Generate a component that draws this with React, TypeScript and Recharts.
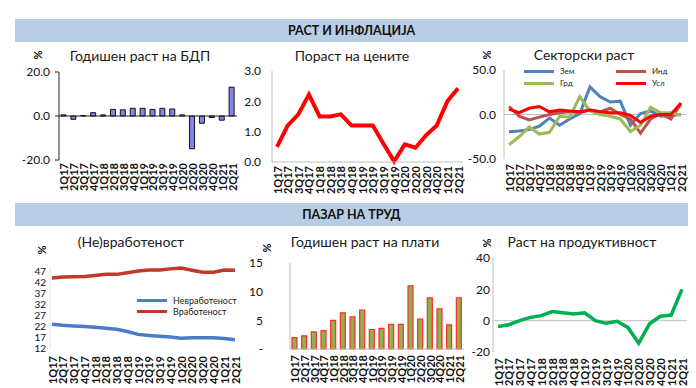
import React from 'react';
import { BarChart, Bar, LineChart, Line, XAxis, YAxis, ReferenceLine } from 'recharts';

const quarters = ['1Q17', '2Q17', '3Q17', '4Q17', '1Q18', '2Q18', '3Q18', '4Q18', '1Q19', '2Q19', '3Q19', '4Q19', '1Q20', '2Q20', '3Q20', '4Q20', '1Q21', '2Q21'];

// Раст и инфлација
const gdpGrowth = [0.5, -1.5, 0.2, 1.5, 0.5, 3.0, 2.8, 3.5, 3.5, 3.0, 3.5, 3.2, 0.5, -14.9, -3.3, -0.7, -1.9, 13.1];
const inflation = [0.5, 1.2, 1.57, 2.22, 1.5, 1.5, 1.57, 1.2, 1.2, 1.2, 0.6, 0.02, 0.58, 0.47, 0.88, 1.2, 2.0, 2.43];
const sectorAgri = [-19.5, -18.5, -17, -13, -4, -12, -5, 1, 31, 20, 14, 15, -12, 1, 4, -2, -1, 0];
const sectorInd = [9, -2, -6, -3, 0, 2, 3, 2, 5, 3, 7, 0, -5, -21, -5, 1, -5, 12];
const sectorConstr = [-34, -25, -14, -22, -20, -2, -3, 20, 4, 0, -2, -5, -19, -12, 8, 2, 2, -1];
const sectorServ = [6, 2, 7, 9, 3, 5, 4, 3, 5, 3, 2, 2, -1, -9, -2, 0, 0, 13];

// Пазар на труд
const unemployment = [22.8, 22.3, 22.0, 21.8, 21.4, 21.0, 20.5, 19.5, 18.2, 17.7, 17.3, 17.0, 16.4, 16.7, 16.7, 16.7, 16.3, 15.8];
const employment = [43.8, 44.3, 44.4, 44.5, 45.0, 45.5, 45.5, 46.2, 47.0, 47.5, 47.5, 48.0, 48.4, 47.4, 46.5, 46.5, 47.5, 47.4];
const wageGrowth = [2.0, 2.3, 3.0, 3.2, 5.0, 6.3, 5.6, 6.8, 3.4, 3.6, 4.3, 4.3, 11.0, 5.2, 8.9, 7.0, 4.2, 8.9];
const productivity = [-3.7, -2.6, 0, 2.1, 3.2, 5.8, 5.0, 4.3, 5.0, 0, -1.7, -0.4, -4.3, -14.4, -2.0, 2.8, 3.6, 20.0];

const FONT = 'Lato, "Noto Sans", sans-serif';
const GRID = '#bfbfbf';

const XTick = ({ x, y, payload }: any) => (
  <text
    transform={`translate(${x},${y}) rotate(-90)`}
    textAnchor="end"
    dominantBaseline="central"
    fontSize={11}
    fontFamily={FONT}
    fontWeight={700}
    fill="#111"
  >
    {payload.value}
  </text>
);

const yTickStyle = { fontSize: 12, fontFamily: FONT, fill: '#111' };
const yTickSmall = { fontSize: 10, fontFamily: FONT, fill: '#111' };

const Title = ({ x, y, text }: { x: number; y: number; text: string }) => (
  <div
    style={{
      position: 'absolute',
      left: x - 120,
      top: y - 9,
      width: 240,
      textAlign: 'center',
      fontFamily: FONT,
      fontSize: 14,
      color: '#1a1a1a',
      lineHeight: '18px',
      whiteSpace: 'nowrap',
    }}
  >
    {text}
  </div>
);

const Pct = ({ x, y }: { x: number; y: number }) => (
  <div
    style={{
      position: 'absolute',
      left: x - 6,
      top: y - 7,
      width: 12,
      height: 14,
      textAlign: 'center',
      fontFamily: FONT,
      fontSize: 11,
      fontWeight: 700,
      lineHeight: '14px',
      transform: 'rotate(-90deg)',
      color: '#111',
    }}
  >
    %
  </div>
);

const Banner = ({ top, text }: { top: number; text: string }) => (
  <div
    style={{
      position: 'absolute',
      left: 15,
      top,
      width: 673,
      height: 23,
      background: '#b8cce4',
      textAlign: 'center',
      lineHeight: '23px',
      fontFamily: FONT,
      fontWeight: 700,
      fontSize: 12.5,
      color: '#111',
    }}
  >
    {text}
  </div>
);

const LegendItem = ({ x, y, color, label, size = 9 }: { x: number; y: number; color: string; label: string; size?: number }) => (
  <div style={{ position: 'absolute', left: x, top: y - 6, height: 12, display: 'flex', alignItems: 'center' }}>
    <div style={{ width: 30, height: 3, background: color, marginRight: 6 }} />
    <span style={{ fontFamily: FONT, fontSize: size, color: '#222', whiteSpace: 'nowrap' }}>{label}</span>
  </div>
);

export default function App() {
  const gdpData = quarters.map((q, i) => ({ q, v: gdpGrowth[i] }));
  const infData = quarters.map((q, i) => ({ q, v: inflation[i] }));
  const sectorData = quarters.map((q, i) => ({
    q,
    zem: sectorAgri[i],
    ind: sectorInd[i],
    grd: sectorConstr[i],
    usl: sectorServ[i],
  }));
  const laborData = quarters.map((q, i) => ({ q, un: unemployment[i], em: employment[i] }));
  const wageData = quarters.map((q, i) => ({ q, v: wageGrowth[i] }));
  const prodData = quarters.map((q, i) => ({ q, v: productivity[i] }));

  return (
    <div style={{ position: 'absolute', left: 0, top: 0, width: 696, height: 388, background: '#fff', overflow: 'hidden' }}>
      <Banner top={19} text="РАСТ И ИНФЛАЦИЈА" />
      <Banner top={203} text="ПАЗАР НА ТРУД" />

      {/* Годишен раст на БДП */}
      <Title x={140} y={56} text="Годишен раст на БДП" />
      <Pct x={38} y={55} />
      <div style={{ position: 'absolute', left: 0, top: 0 }}>
        <BarChart width={240} height={200} data={gdpData} margin={{ top: 72, right: 3, left: 19, bottom: 3 }}>
          <XAxis dataKey="q" height={37} axisLine={false} tickLine={false} tickSize={0} tickMargin={3} interval={0} tick={<XTick />} />
          <YAxis
            width={40}
            domain={[-20, 20]}
            ticks={[-20, 0, 20]}
            interval={0}
            tickFormatter={(v: number) => v.toFixed(1)}
            axisLine={{ stroke: '#222' }}
            tickLine={{ stroke: '#222' }}
            tickSize={4}
            tickMargin={5}
            tick={yTickStyle}
          />
          <ReferenceLine y={0} stroke="#222" />
          <Bar dataKey="v" fill="#8484f0" stroke="#111" strokeWidth={1} barSize={5} isAnimationActive={false} />
        </BarChart>
      </div>

      {/* Пораст на цените */}
      <Title x={352} y={56} text="Пораст на цените" />
      <div style={{ position: 'absolute', left: 225, top: 0 }}>
        <LineChart width={240} height={200} data={infData} margin={{ top: 71, right: 2, left: 17, bottom: 2 }}>
          <XAxis dataKey="q" height={36} padding={{ left: 5, right: 5 }} axisLine={{ stroke: GRID }} tickLine={false} tickSize={0} tickMargin={4} interval={0} tick={<XTick />} />
          <YAxis
            width={30}
            domain={[0, 3]}
            ticks={[0, 1, 2, 3]}
            interval={0}
            tickFormatter={(v: number) => v.toFixed(1)}
            axisLine={{ stroke: GRID }}
            tickLine={false}
            tickMargin={5}
            tick={yTickStyle}
          />
          <Line dataKey="v" stroke="#ff0000" strokeWidth={4} dot={false} type="linear" isAnimationActive={false} />
        </LineChart>
      </div>

      {/* Секторски раст */}
      <Title x={584} y={55} text="Секторски раст" />
      <Pct x={487} y={55} />
      <div style={{ position: 'absolute', left: 455, top: 0 }}>
        <LineChart width={241} height={200} data={sectorData} margin={{ top: 70, right: 10, left: 9, bottom: 3 }}>
          <XAxis dataKey="q" height={38} padding={{ left: 5, right: 5 }} axisLine={false} tickLine={false} tickSize={0} tickMargin={5} interval={0} tick={<XTick />} />
          <YAxis
            width={40}
            domain={[-50, 50]}
            ticks={[-50, 0, 50]}
            interval={0}
            tickFormatter={(v: number) => v.toFixed(1)}
            axisLine={{ stroke: GRID }}
            tickLine={false}
            tick={yTickStyle}
          />
          <ReferenceLine y={0} stroke={GRID} />
          <Line dataKey="zem" stroke="#4f81bd" strokeWidth={3} dot={false} isAnimationActive={false} />
          <Line dataKey="ind" stroke="#c0504d" strokeWidth={3} dot={false} isAnimationActive={false} />
          <Line dataKey="grd" stroke="#9bbb59" strokeWidth={3} dot={false} isAnimationActive={false} />
          <Line dataKey="usl" stroke="#ff0000" strokeWidth={3} dot={false} isAnimationActive={false} />
        </LineChart>
      </div>
      <LegendItem x={524} y={71} color="#4f81bd" label="Зем" size={8} />
      <LegendItem x={616} y={71} color="#c0504d" label="Инд" size={8} />
      <LegendItem x={524} y={83} color="#9bbb59" label="Грд" size={8} />
      <LegendItem x={616} y={83} color="#ff0000" label="Усл" size={8} />

      {/* (Не)вработеност */}
      <Title x={131} y={242} text="(Не)вработеност" />
      <Pct x={42} y={250} />
      <div style={{ position: 'absolute', left: 0, top: 225 }}>
        <LineChart width={245} height={163} data={laborData} margin={{ top: 43, right: 8, left: 10, bottom: 2 }}>
          <XAxis dataKey="q" height={38} padding={{ left: 2, right: 2 }} axisLine={false} tickLine={false} tickSize={0} tickMargin={8} interval={0} tick={<XTick />} />
          <YAxis
            width={40}
            domain={[12, 47]}
            ticks={[12, 17, 22, 27, 32, 37, 42, 47]}
            interval={0}
            axisLine={{ stroke: '#e4e4e4' }}
            tickLine={false}
            tickSize={2}
            tickMargin={2}
            tick={yTickSmall}
          />
          <Line dataKey="em" stroke="#c0392b" strokeWidth={3.5} dot={false} isAnimationActive={false} />
          <Line dataKey="un" stroke="#4a7cc7" strokeWidth={3.5} dot={false} isAnimationActive={false} />
        </LineChart>
      </div>
      <LegendItem x={137} y={300} color="#4a7cc7" label="Невработеност" />
      <LegendItem x={137} y={311} color="#c0392b" label="Вработеност" />

      {/* Годишен раст на плати */}
      <Title x={365} y={242} text="Годишен раст на плати" />
      <Pct x={267} y={248} />
      <div style={{ position: 'absolute', left: 245, top: 225 }}>
        <BarChart width={225} height={163} data={wageData} margin={{ top: 38, right: 6, left: 5, bottom: 2 }}>
          <XAxis dataKey="q" height={37} axisLine={{ stroke: GRID }} tickLine={false} tickSize={0} tickMargin={6} interval={0} tick={<XTick />} />
          <YAxis
            width={40}
            domain={[0, 15]}
            ticks={[0, 5, 10, 15]}
            interval={0}
            tickFormatter={(v: number) => (v === 0 ? '-' : String(v))}
            axisLine={{ stroke: GRID }}
            tickLine={false}
            tickMargin={21}
            tick={yTickStyle}
          />
          <Bar dataKey="v" fill="#8fb24a" stroke="#ff2a2a" strokeWidth={1.2} barSize={5} isAnimationActive={false} />
        </BarChart>
      </div>

      {/* Раст на продуктивност */}
      <Title x={582} y={242} text="Раст на продуктивност" />
      <Pct x={487} y={243} />
      <div style={{ position: 'absolute', left: 455, top: 225 }}>
        <LineChart width={241} height={163} data={prodData} margin={{ top: 33, right: 9, left: 8, bottom: 2 }}>
          <XAxis dataKey="q" height={34} padding={{ left: 5, right: 5 }} axisLine={false} tickLine={false} tickSize={0} tickMargin={6} interval={0} tick={<XTick />} />
          <YAxis
            width={30}
            domain={[-20, 40]}
            ticks={[-20, 0, 20, 40]}
            interval={0}
            axisLine={{ stroke: GRID }}
            tickLine={false}
            tickSize={0}
            tickMargin={3}
            tick={yTickStyle}
          />
          <ReferenceLine y={0} stroke={GRID} />
          <Line dataKey="v" stroke="#00b050" strokeWidth={3.5} dot={false} isAnimationActive={false} />
        </LineChart>
      </div>
    </div>
  );
}
